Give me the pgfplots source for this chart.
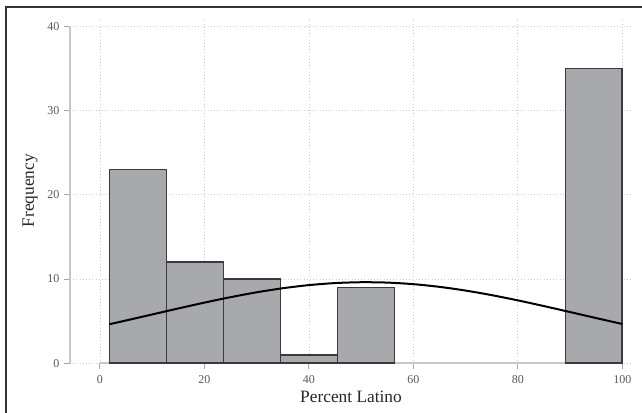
\documentclass[border=0pt]{standalone}
\usepackage{fontspec}
\setmainfont{Liberation Serif}
\usepackage{pgfplots}
\pgfplotsset{compat=1.18}
\definecolor{barfill}{HTML}{A8A9AD}
\definecolor{baredge}{HTML}{3A3A3A}
\begin{document}
\begin{tikzpicture}
\useasboundingbox (0,0) rectangle (481.5pt,309.75pt);
\draw[line width=1.5pt, color=black!80] (4.75pt,0) -- (4.75pt,304.3pt) -- (482pt,304.3pt);
\begin{axis}[
  at={(52.5pt,37.3pt)}, anchor=south west,
  scale only axis, width=421.5pt, height=259pt,
  xmin=-5.74, xmax=101.86, ymin=0, ymax=41.0,
  axis line style={draw=none},
  xtick={0,20,...,100}, ytick={0,10,...,40},
  tick align=outside, xtick pos=bottom, ytick pos=left,
  major tick length=4.5pt,
  tick style={color=black!35, line width=0.75pt},
  grid=major, grid style={dotted, black!20, line width=0.6pt},
  /pgf/number format/assume math mode=true,
  ticklabel style={font=\fontsize{9}{10}\selectfont, text=black!65},
  xticklabel style={yshift=-1pt},
  yticklabel style={xshift=0pt},
  xlabel={Percent Latino}, ylabel={Frequency},
  label style={font=\fontsize{13}{15}\selectfont, text=black!85},
  xlabel style={at={(rel axis cs:0.5,0)}, anchor=center, yshift=-25.3pt},
  ylabel style={at={(rel axis cs:0,0.5)}, anchor=center, rotate=0, yshift=30pt},
  clip=false,
]
\draw[black!22, line width=1.4pt] (axis cs:-5.74,0) -- (axis cs:-5.74,40);
\draw[black!22, line width=1.4pt] (axis cs:0,0) -- (axis cs:100,0);
\addplot[ybar interval, fill=barfill, draw=baredge, line width=1.2pt]
  coordinates {(1.8,23) (12.71,12) (23.62,10) (34.53,1) (45.44,9) (56.36,9)};
\addplot[ybar interval, fill=barfill, draw=baredge, line width=1.2pt]
  coordinates {(89.09,35) (100,35)};
\addplot[smooth, black, line width=1.5pt] coordinates {
  (1.8,4.635) (5,5.081) (10,5.795) (15,6.508) (20,7.201) (25,7.848)
  (30,8.425) (35,8.908) (40,9.279) (45,9.520) (50,9.621) (55,9.578)
  (60,9.392) (65,9.071) (70,8.631) (75,8.088) (80,7.467) (85,6.789)
  (90,6.081) (95,5.365) (100,4.663)};
\end{axis}
\end{tikzpicture}
\end{document}
